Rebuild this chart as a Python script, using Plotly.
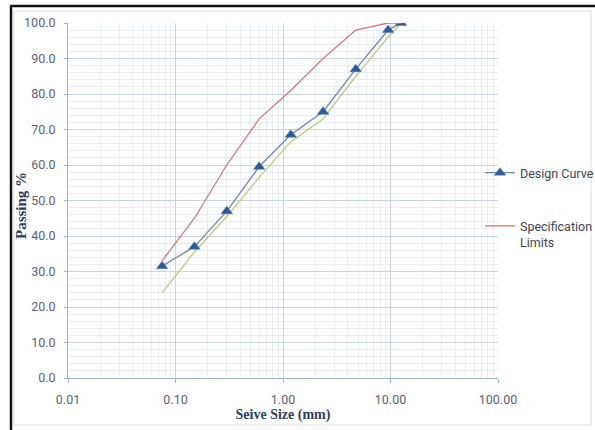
import plotly.graph_objects as go

# ---- data ----
sieve_mm = [0.075, 0.15, 0.3, 0.6, 1.18, 2.36, 4.75, 9.5, 12.5]
design_curve = [31.5, 37.0, 47.0, 59.5, 68.5, 75.0, 87.0, 98.0, 100.0]
spec_upper = [33.0, 45.0, 60.0, 73.0, 81.0, 90.0, 98.0, 100.0, 100.0]
spec_lower = [24.0, 35.5, 45.5, 56.5, 66.5, 73.0, 85.0, 96.0, 100.0]
x_ticks = [0.01, 0.1, 1, 10, 100]
x_tick_text = ["0.01", "0.10", "1.00", "10.00", "100.00"]
y_ticks = [0, 10, 20, 30, 40, 50, 60, 70, 80, 90, 100]

W, H = 595, 430
L, R, T, B = 68, 97, 23, 52

def px(x):
    return (x - L) / (W - L - R)

def py(y):
    return (H - B - y) / (H - T - B)

fig = go.Figure()

fig.add_trace(go.Scatter(
    x=sieve_mm, y=spec_lower, mode="lines", showlegend=False,
    line=dict(color="#bccd78", width=1.3), legendgroup="c",
))
fig.add_trace(go.Scatter(
    x=sieve_mm, y=design_curve, mode="lines+markers", name="Design Curve",
    line=dict(color="#7388b0", width=1.3),
    marker=dict(symbol="triangle-up", size=10, color="#2c5b98",
                line=dict(color="#4a78b5", width=0.5)),
    legendgroup="a",
))
fig.add_trace(go.Scatter(
    x=sieve_mm, y=spec_upper, mode="lines", name="Specification<br>Limits",
    line=dict(color="#d07a78", width=1.3), legendgroup="b",
))

tick_font = dict(family="Roboto, sans-serif", size=12.5, color="#5b6275")
title_font = dict(family="Liberation Serif, serif", size=14, color="#2b3f63")

fig.update_xaxes(
    type="log", range=[-2, 2],
    tickvals=x_ticks, ticktext=x_tick_text,
    tickfont=tick_font,
    showgrid=True, gridcolor="#c9d4e6", gridwidth=1,
    minor=dict(showgrid=True, gridcolor="#e8edf6", gridwidth=1, dtick="D1"),
    showline=True, linecolor="#9fb2d3", linewidth=1,
    ticks="outside", ticklen=4, tickcolor="#9fb2d3",
    ticklabelstandoff=6,
    title=dict(text="<b>Seive Size (mm)</b>", font=title_font, standoff=0),
    zeroline=False, automargin=False,
)
fig.update_yaxes(
    range=[0, 100], tickvals=y_ticks, tickformat=".1f",
    tickfont=tick_font,
    showgrid=True, gridcolor="#c9d4e6", gridwidth=1,
    minor=dict(showgrid=True, gridcolor="#e8edf6", gridwidth=1, dtick=2),
    showline=True, linecolor="#9fb2d3", linewidth=1,
    ticks="outside", ticklen=3, tickcolor="#9fb2d3",
    ticklabelstandoff=6,
    zeroline=False, automargin=False,
)

shapes = [
    # light chart-area border
    dict(type="rect", xref="paper", yref="paper",
         x0=px(14), x1=px(591), y0=py(425), y1=py(11),
         line=dict(color="#dddddd", width=1), layer="below"),
    # black outer frame (top and left)
    dict(type="line", xref="paper", yref="paper",
         x0=px(10), x1=px(596), y0=py(6), y1=py(6),
         line=dict(color="#111111", width=2.5)),
    dict(type="line", xref="paper", yref="paper",
         x0=px(11), x1=px(11), y0=py(5), y1=py(431),
         line=dict(color="#111111", width=2.5)),
]

annotations = [
    dict(text="<b>Passing %</b>", xref="paper", yref="paper",
         x=px(21), y=py(206), xanchor="center", yanchor="middle",
         textangle=-90, showarrow=False,
         font=dict(family="Liberation Serif, serif", size=15, color="#2b3f63")),
]

fig.update_layout(
    width=W, height=H,
    margin=dict(l=L, r=R, t=T, b=B, autoexpand=False),
    paper_bgcolor="white", plot_bgcolor="white",
    shapes=shapes,
    annotations=annotations,
    legend=dict(
        x=px(480), xanchor="left", y=py(158), yanchor="top",
        font=dict(family="Roboto, sans-serif", size=12.5, color="#3f4456"),
        tracegroupgap=34, valign="top", bgcolor="rgba(0,0,0,0)",
        traceorder="grouped",
    ),
    showlegend=True,
)

fig.write_html(
    "out.html",
    config={"displayModeBar": False},
    post_script="document.body.style.margin='0';document.body.style.overflow='hidden';",
)
